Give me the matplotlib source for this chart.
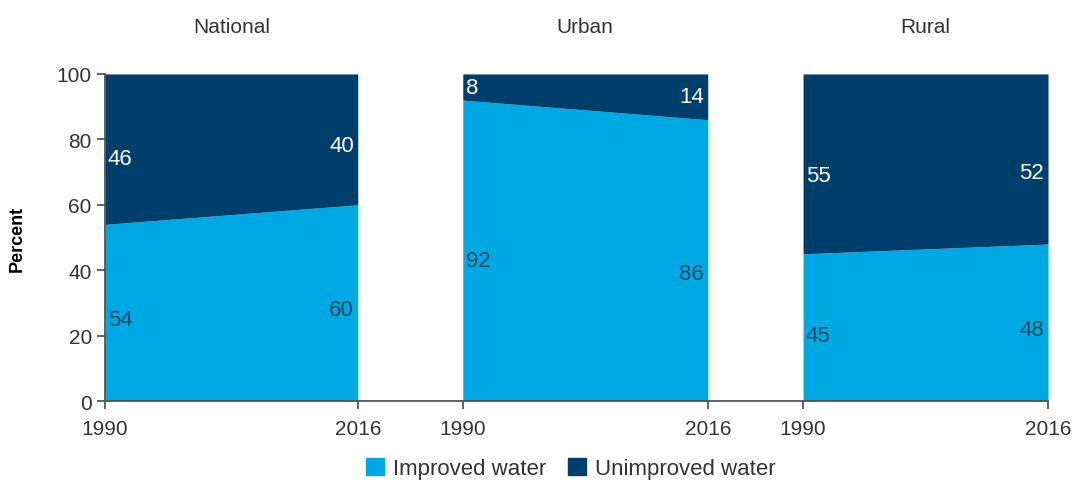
import matplotlib.pyplot as plt
from matplotlib.patches import Patch

plt.rcParams['font.family'] = ['Liberation Sans', 'DejaVu Sans']

# access to water, percent of population
areas = ["National", "Urban", "Rural"]
years = ["1990", "2016"]
improved = [[54, 60], [92, 86], [45, 48]]
unimproved = [[46, 40], [8, 14], [55, 52]]

c_imp = "#00a9e4"
c_unimp = "#003f6c"
txt_dark = "#1c4a63"

# x extent of each panel on the shared axis
spans = [(0, 26), (36.8, 62), (71.8, 97)]
# label heights (percent) for the two series, per panel and year
lab_unimp_y = [[74, 78], [96, 93], [69, 70]]
lab_imp_y = [[25, 28], [43, 39], [20, 22]]

fig = plt.figure(figsize=(10.77, 4.81), dpi=100)
ax = fig.add_axes([0.0975, 0.1642, 0.8756, 0.680])

ticks, ticklabels = [], []
for i, (x0, x1) in enumerate(spans):
    xs = [x0, x1]
    imp = improved[i]
    tot = [a + b for a, b in zip(imp, unimproved[i])]
    ax.fill_between(xs, 0, imp, color=c_imp, lw=0)
    ax.fill_between(xs, imp, tot, color=c_unimp, lw=0)
    ax.text((x0 + x1) / 2, 1.145, areas[i], transform=ax.get_xaxis_transform(),
            ha="center", va="center", fontsize=15, color="#333333")
    for j, (x, ha) in enumerate([(x0 + 0.3, "left"), (x1 - 0.4, "right")]):
        ax.text(x, lab_unimp_y[i][j], str(unimproved[i][j]), ha=ha, va="center",
                fontsize=16, color="white")
        ax.text(x, lab_imp_y[i][j], str(imp[j]), ha=ha, va="center",
                fontsize=16, color=txt_dark)
    ticks += xs
    ticklabels += years

ax.set_xlim(0, 97)
ax.set_ylim(0, 100)
ax.set_xticks(ticks)
ax.set_xticklabels(ticklabels)
ax.set_yticks(range(0, 101, 20))
ax.set_ylabel("Percent", fontsize=13, fontweight="bold", labelpad=22)
for s in ["top", "right"]:
    ax.spines[s].set_visible(False)
for s in ["left", "bottom"]:
    ax.spines[s].set_color("#555555")
    ax.spines[s].set_linewidth(1.3)
ax.tick_params(labelsize=15, colors="#555555", labelcolor="#333333",
               length=6, width=1.3)
ax.tick_params(axis="x", pad=7)

handles = [Patch(color=c_imp, label="Improved water"),
           Patch(color=c_unimp, label="Unimproved water")]
fig.legend(handles=handles, loc="lower center", bbox_to_anchor=(0.53, -0.04),
           ncol=2, frameon=False, fontsize=16, handlelength=0.8, handleheight=0.8,
           handletextpad=0.4, columnspacing=1.0, labelcolor="#333333")

fig.savefig("out.png", dpi=100)
